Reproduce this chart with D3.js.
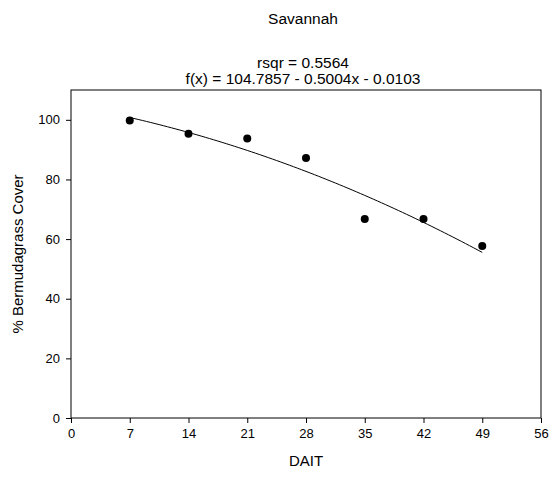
<!DOCTYPE html>
<html>
<head>
<meta charset="utf-8">
<script src="https://cdn.jsdelivr.net/npm/d3@7"></script>
<style>
  html, body { margin: 0; padding: 0; background: #fff; }
  svg { display: block; font-family: "Liberation Sans", Arial, sans-serif; }
</style>
</head>
<body>
<svg id="chart" width="558" height="479"></svg>
<script>
// Data
const daitValues = [7, 14, 21, 28, 35, 42, 49];
const coverValues = [99.8, 95.3, 93.7, 87.2, 66.7, 66.7, 57.7];
const fitCoefficients = [104.7857, -0.5004, -0.0103]; // f(x) = a + b x + c x^2
const xTicks = [0, 7, 14, 21, 28, 35, 42, 49, 56];
const yTicks = [0, 20, 40, 60, 80, 100];
const titleText = "Savannah";
const rsqrText = "rsqr = 0.5564";
const fitText = "f(x) = 104.7857 - 0.5004x - 0.0103";
const xLabel = "DAIT";
const yLabel = "% Bermudagrass Cover";

(function () {
const svg = d3.select("#chart");
const pLeft = 71, pRight = 541, pTop = 90, pBottom = 418;

const x = d3.scaleLinear().domain([0, 56]).range([pLeft, pRight]);
const y = d3.scaleLinear().domain([0, 110]).range([pBottom, pTop]);

// Frame
svg.append("rect")
  .attr("x", pLeft).attr("y", pTop)
  .attr("width", pRight - pLeft).attr("height", pBottom - pTop)
  .attr("fill", "none").attr("stroke", "#000").attr("stroke-width", 1);

// Axes
const xAxis = svg.append("g")
  .attr("transform", `translate(0,${pBottom})`)
  .call(d3.axisBottom(x).tickValues(xTicks).tickSize(5).tickPadding(6).tickFormat(d3.format("d")));
const yAxis = svg.append("g")
  .attr("transform", `translate(${pLeft},0)`)
  .call(d3.axisLeft(y).tickValues(yTicks).tickSize(5).tickPadding(6).tickFormat(d3.format("d")));
[xAxis, yAxis].forEach(g => {
  g.select(".domain").remove();
  g.selectAll("text").attr("font-size", 13).attr("fill", "#000")
    .attr("font-family", '"Liberation Sans", Arial, sans-serif');
  g.selectAll("line").attr("stroke", "#000");
});

// Fit curve
const fit = d => fitCoefficients[0] + fitCoefficients[1] * d + fitCoefficients[2] * d * d;
const curveX = d3.range(daitValues[0], daitValues[daitValues.length - 1] + 0.001, 0.5);
svg.append("path")
  .datum(curveX)
  .attr("fill", "none").attr("stroke", "#000").attr("stroke-width", 1)
  .attr("d", d3.line().x(d => x(d)).y(d => y(fit(d))));

// Points
svg.selectAll("circle.pt")
  .data(daitValues.map((d, i) => [d, coverValues[i]]))
  .join("circle")
  .attr("class", "pt")
  .attr("cx", d => x(d[0])).attr("cy", d => y(d[1]))
  .attr("r", 4).attr("fill", "#000");

// Titles
const cx = 303;
svg.append("text").attr("x", cx).attr("y", 24).attr("text-anchor", "middle")
  .attr("font-size", 15.5).text(titleText);
svg.append("text").attr("x", cx).attr("y", 68).attr("text-anchor", "middle")
  .attr("font-size", 15.5).text(rsqrText);
svg.append("text").attr("x", cx).attr("y", 84).attr("text-anchor", "middle")
  .attr("font-size", 15.5).text(fitText);

// Axis labels
svg.append("text").attr("x", (pLeft + pRight) / 2).attr("y", 466).attr("text-anchor", "middle")
  .attr("font-size", 15).text(xLabel);
svg.append("text")
  .attr("transform", `translate(23,${(pTop + pBottom) / 2}) rotate(-90)`)
  .attr("text-anchor", "middle").attr("font-size", 15).text(yLabel);
})();
</script>
</body>
</html>
